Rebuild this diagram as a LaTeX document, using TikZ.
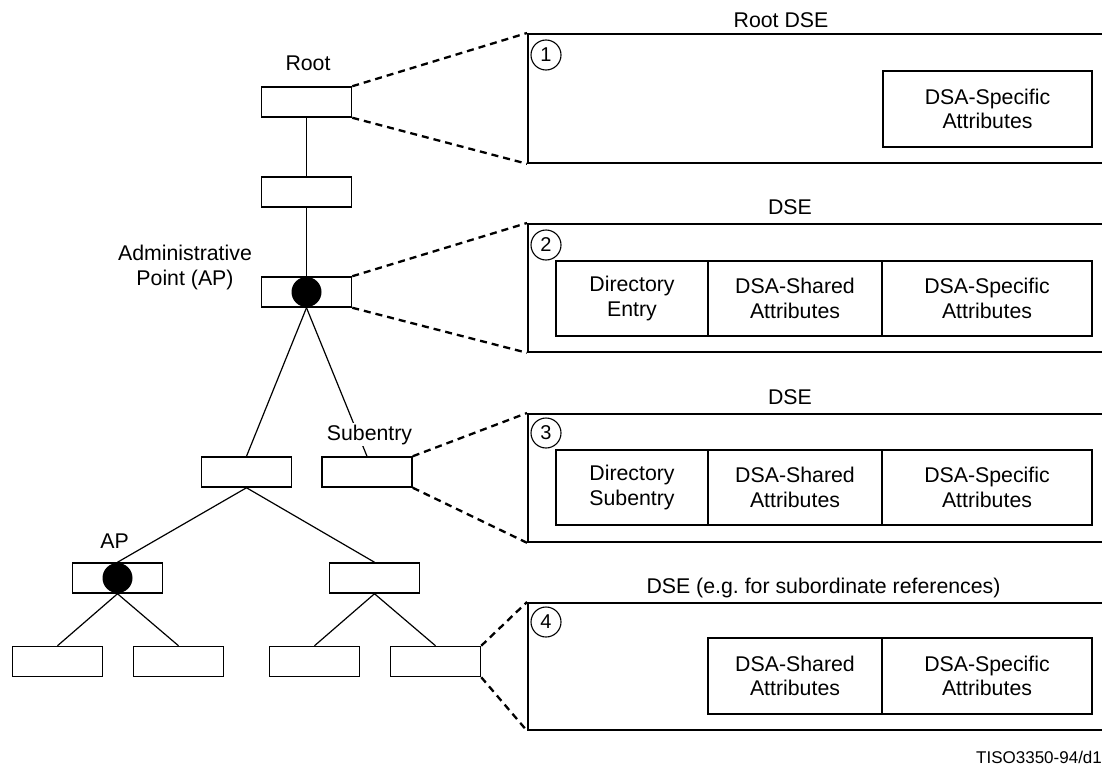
\documentclass[tikz,border=0pt]{standalone}
\usepackage{fontspec}
\setmainfont{Liberation Sans}
\begin{document}
\frenchspacing
\begin{tikzpicture}[x=1pt,y=-1pt,
  every node/.style={font=\fontsize{21.3}{24.5}\selectfont},
  tbox/.style={draw, line width=1.5pt, minimum width=90pt, minimum height=30pt, inner sep=0pt},
  tline/.style={line width=1.2pt},
  dline/.style={line width=2.3pt, dash pattern=on 7pt off 5pt},
  bigbox/.style={draw, line width=1.8pt, minimum width=620pt, inner sep=0pt, anchor=north west},
  cell/.style={draw, line width=1.5pt, inner sep=0pt, align=center},
  numc/.style={draw, circle, line width=1.1pt, minimum size=30pt, inner sep=0pt, font=\fontsize{20}{22}\selectfont},
  apdot/.style={fill=black, circle, minimum size=30pt, inner sep=0pt},
  lbl/.style={anchor=base, inner sep=0pt, align=center}
]
\useasboundingbox (0,0) rectangle (1102,765);
\clip (0,0) rectangle (1102,765);

% tree boxes
\node[tbox] (root) at (306.5,102) {};
\node[tbox] (n2)   at (306.5,192) {};
\node[tbox] (ap)   at (306.5,292) {};
\node[tbox] (a)    at (246.5,472) {};
\node[tbox] (sub)  at (367,472) {};
\node[tbox] (ap2)  at (117.5,578) {};
\node[tbox] (b)    at (374.5,578) {};
\node[tbox] (l1)   at (57.5,661.5) {};
\node[tbox] (l2)   at (178.5,661.5) {};
\node[tbox] (l3)   at (314.5,661.5) {};
\node[tbox] (l4)   at (435.5,661.5) {};

% tree connectors
\draw[tline] (root.south) -- (n2.north);
\draw[tline] (n2.south) -- (ap.north);
\draw[tline] (ap.south) -- (a.north);
\draw[tline] (ap.south) -- (sub.north);
\draw[tline] (a.south) -- (ap2.north);
\draw[tline] (a.south) -- (b.north);
\draw[tline] (ap2.south) -- (l1.north);
\draw[tline] (ap2.south) -- (l2.north);
\draw[tline] (b.south) -- (l3.north);
\draw[tline] (b.south) -- (l4.north);

% administrative point dots
\node[apdot] (dot1) at (ap.center) {};
\node[apdot] (dot2) at (ap2.center) {};

% tree labels
\node[lbl] (lroot) at (308,71) {Root};
\node[lbl] (ladm) at (185,285) {Administrative\\Point (AP)};
\node[lbl] (lap) at (114.5,548) {AP};
\node[lbl, fill=white, inner sep=2pt] (lsub) at (369.5,440) {Subentry};

% big DSE boxes
\node[bigbox, minimum height=129pt] (big1) at (527,33) {};
\node[bigbox, minimum height=128pt] (big2) at (527,223) {};
\node[bigbox, minimum height=128pt] (big3) at (527,413) {};
\node[bigbox, minimum height=127pt] (big4) at (527,602) {};

% titles
\node[lbl] (t1) at (781,28) {Root DSE};
\node[lbl] (t2) at (790,214) {DSE};
\node[lbl] (t3) at (790,404) {DSE};
\node[lbl] (t4) at (823.5,593) {DSE (e.g. for subordinate references)};

% numbered circles
\node[numc] (c1) at (546,55) {1};
\node[numc] (c2) at (546,245) {2};
\node[numc] (c3) at (546,433) {3};
\node[numc] (c4) at (546,622) {4};

% dashed expansion lines
\draw[dline] (root.north east) -- (big1.north west);
\draw[dline] (root.south east) -- (big1.south west);
\draw[dline] (ap.north east) -- (big2.north west);
\draw[dline] (ap.south east) -- (big2.south west);
\draw[dline] (sub.north east) -- (big3.north west);
\draw[dline] (sub.south east) -- (big3.south west);
\draw[dline] (l4.north east) -- (big4.north west);
\draw[dline] (l4.south east) -- (big4.south west);

% box 1 contents
\node[cell, minimum width=209pt, minimum height=76pt] (s1) at (987.5,109) {DSA-Specific\\Attributes};

% box 2 contents
\node[cell, minimum width=152pt, minimum height=75pt] (d2) at (632,298.5) {Directory\\Entry};
\node[cell, minimum width=174pt, minimum height=75pt] (h2) at (795,298.5) {DSA-Shared\\Attributes};
\node[cell, minimum width=210pt, minimum height=75pt] (s2) at (987,298.5) {DSA-Specific\\Attributes};

% box 3 contents
\node[cell, minimum width=152pt, minimum height=75pt] (d3) at (632,487.5) {Directory\\Subentry};
\node[cell, minimum width=174pt, minimum height=75pt] (h3) at (795,487.5) {DSA-Shared\\Attributes};
\node[cell, minimum width=210pt, minimum height=75pt] (s3) at (987,487.5) {DSA-Specific\\Attributes};

% box 4 contents
\node[cell, minimum width=174pt, minimum height=76pt] (h4) at (795,676) {DSA-Shared\\Attributes};
\node[cell, minimum width=210pt, minimum height=76pt] (s4) at (987,676) {DSA-Specific\\Attributes};

% figure tag
\node[anchor=base west, inner sep=0pt, font=\fontsize{17}{20}\selectfont] (tag) at (976,763) {TISO3350-94/d1};
\end{tikzpicture}
\end{document}
